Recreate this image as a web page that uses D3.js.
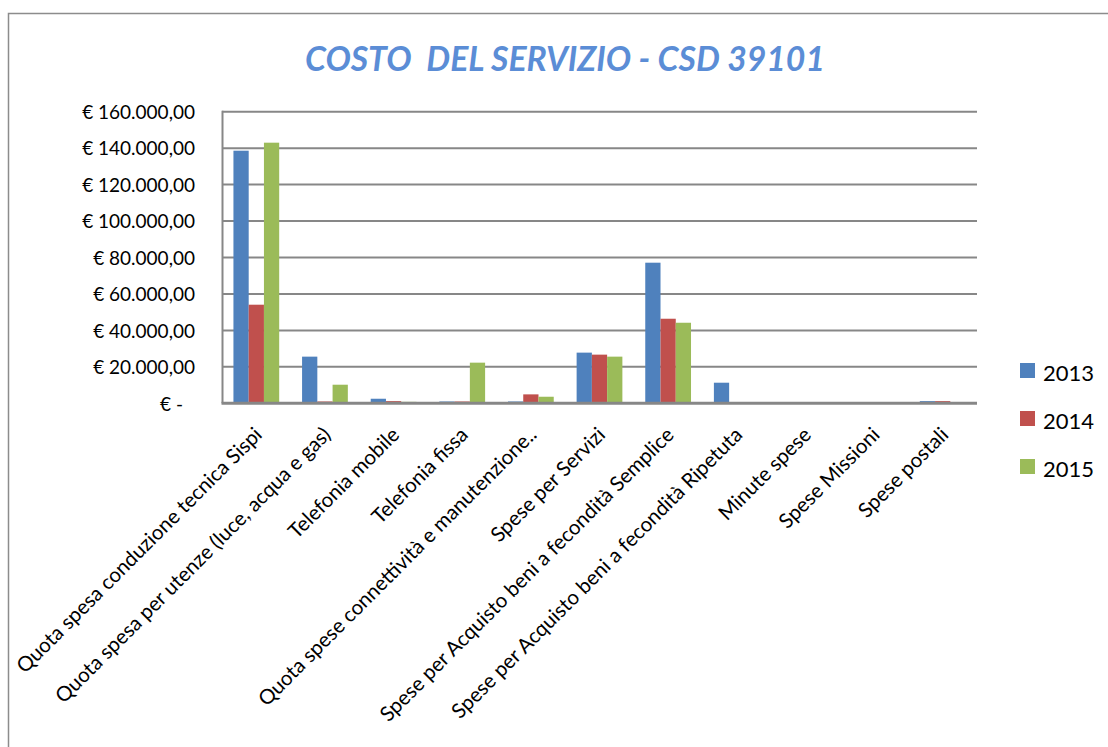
<!DOCTYPE html>
<html>
<head>
<meta charset="utf-8">
<script src="https://cdn.jsdelivr.net/npm/d3@7/dist/d3.min.js"></script>
<style>
  html, body { margin: 0; padding: 0; background: #ffffff; }
  svg { display: block; }
</style>
</head>
<body>
<svg id="chart" width="1108" height="747"></svg>
<script>
// Cost categories (x axis)
const categories = [
  "Quota spesa conduzione tecnica Sispi",
  "Quota spesa per utenze (luce, acqua e gas)",
  "Telefonia mobile",
  "Telefonia fissa",
  "Quota spese connettività e manutenzione..",
  "Spese per Servizi",
  "Spese per Acquisto beni a fecondità Semplice",
  "Spese per Acquisto beni a fecondità Ripetuta",
  "Minute spese",
  "Spese Missioni",
  "Spese postali"
];

const years = ["2013", "2014", "2015"];

// Yearly amounts in euro, one per category
const values2013 = [138600, 25600, 2500, 1000, 1000, 27800, 77150, 11300, 0, 0, 1200];
const values2014 = [54100, 1000, 1200, 1000, 4900, 26700, 46400, 0, 0, 0, 1200];
const values2015 = [143000, 10200, 800, 22300, 3600, 25600, 44200, 0, 0, 0, 0];

const seriesColors = ["#4F81BD", "#C0504D", "#9BBB59"];

// Value axis
const yTicks = [0, 20000, 40000, 60000, 80000, 100000, 120000, 140000, 160000];
const yTickLabels = ["€ -", "€ 20.000,00", "€ 40.000,00", "€ 60.000,00", "€ 80.000,00",
                     "€ 100.000,00", "€ 120.000,00", "€ 140.000,00", "€ 160.000,00"];

const chartTitle = "COSTO  DEL SERVIZIO - CSD 39101";

const FONT = "Lato, Carlito, 'Open Sans', sans-serif";
const GRID = "#878787";

const svg = d3.select("#chart");

// Outer chart frame (continues past the right and bottom edges)
svg.append("rect")
  .attr("x", 8.5).attr("y", 13.5)
  .attr("width", 1200).attr("height", 800)
  .attr("fill", "none")
  .attr("stroke", "#8c8c8c")
  .attr("stroke-width", 1.5);

// Plot area
const plot = { left: 222, right: 977, top: 111.7, bottom: 403.3 };

const x0 = d3.scaleBand()
  .domain(categories)
  .range([plot.left, plot.right])
  .paddingInner(1 / 3)
  .paddingOuter(1 / 6);

const x1 = d3.scaleBand()
  .domain(years)
  .range([0, x0.bandwidth()])
  .padding(0);

const y = d3.scaleLinear()
  .domain([0, 160000])
  .range([plot.bottom, plot.top]);

const color = d3.scaleOrdinal().domain(years).range(seriesColors);

// Horizontal gridlines
svg.append("g")
  .selectAll("line")
  .data(yTicks.filter(t => t > 0))
  .join("line")
  .attr("x1", plot.left).attr("x2", plot.right)
  .attr("y1", d => y(d)).attr("y2", d => y(d))
  .attr("stroke", GRID)
  .attr("stroke-width", 2);

// Bars
const rows = categories.map((c, i) => ({
  category: c,
  values: [values2013[i], values2014[i], values2015[i]]
}));

svg.append("g")
  .selectAll("g")
  .data(rows)
  .join("g")
  .attr("transform", d => `translate(${x0(d.category)},0)`)
  .selectAll("rect")
  .data(d => years.map((yr, k) => ({ year: yr, value: d.values[k] })))
  .join("rect")
  .attr("x", d => x1(d.year))
  .attr("width", x1.bandwidth())
  .attr("y", d => y(d.value))
  .attr("height", d => y(0) - y(d.value))
  .attr("fill", d => color(d.year));

// Value axis with euro labels
const yAxis = d3.axisLeft(y)
  .tickValues(yTicks)
  .tickFormat((d, i) => yTickLabels[i])
  .tickSize(0)
  .tickPadding(27);

const yAxisG = svg.append("g")
  .attr("transform", `translate(${plot.left},0)`)
  .call(yAxis);
yAxisG.select(".domain").remove();
yAxisG.selectAll("text")
  .attr("font-family", FONT)
  .attr("font-size", 19)
  .attr("fill", "#000")
  .attr("dy", "0.36em")
  .attr("dx", d => d === 0 ? -12 : 0);

// Axis lines
svg.append("line")
  .attr("x1", plot.left + 0.5).attr("x2", plot.left + 0.5)
  .attr("y1", plot.top - 1).attr("y2", plot.bottom)
  .attr("stroke", GRID).attr("stroke-width", 2);

svg.append("line")
  .attr("x1", plot.left - 0.5).attr("x2", plot.right)
  .attr("y1", y(0)).attr("y2", y(0))
  .attr("stroke", GRID).attr("stroke-width", 3);

// Category labels, rotated
svg.append("g")
  .selectAll("text")
  .data(categories)
  .join("text")
  .attr("transform", d => `translate(${x0(d) + x0.bandwidth() / 2 + 7},436) rotate(-45)`)
  .attr("text-anchor", "end")
  .attr("font-family", FONT)
  .attr("font-size", 20.5)
  .attr("fill", "#000")
  .text(d => d);

// Title
svg.append("text")
  .attr("x", 565).attr("y", 71)
  .attr("text-anchor", "middle")
  .attr("font-family", FONT)
  .attr("font-size", 35)
  .attr("font-weight", "bold")
  .attr("font-style", "italic")
  .attr("fill", "#5B8DD6")
  .attr("textLength", 520)
  .attr("lengthAdjust", "spacingAndGlyphs")
  .style("white-space", "pre")
  .text(chartTitle);

// Legend
const legend = svg.append("g")
  .selectAll("g")
  .data(years)
  .join("g")
  .attr("transform", (d, i) => `translate(1020,${363 + i * 48})`);

legend.append("rect")
  .attr("width", 15).attr("height", 15)
  .attr("fill", d => color(d));

legend.append("text")
  .attr("x", 23).attr("y", 18)
  .attr("font-family", FONT)
  .attr("font-size", 22)
  .attr("fill", "#000")
  .text(d => d);
</script>
</body>
</html>
